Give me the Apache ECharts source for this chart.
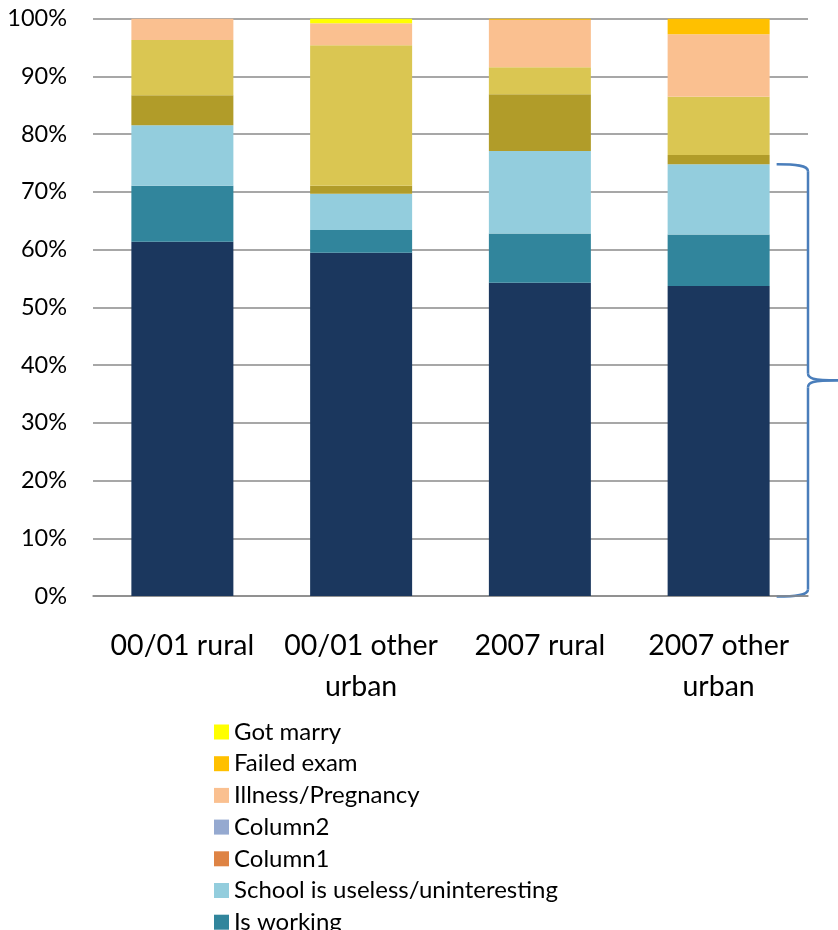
<!DOCTYPE html>
<html>
<head>
<meta charset="utf-8">
<script src="https://cdn.jsdelivr.net/npm/echarts@6/dist/echarts.min.js"></script>
<style>
html,body{margin:0;padding:0;background:#fff;}
#c{width:838px;height:930px;}
</style>
</head>
<body>
<div id="c"></div>
<script>
// ---- data (percent of reasons for dropping out) ----
var categories = ['00/01 rural', '00/01 other urban', '2007 rural', '2007 other urban'];
var yTicks = [0, 10, 20, 30, 40, 50, 60, 70, 80, 90, 100];
var baseSeries   = [61.35, 59.45, 54.25, 53.7];   // bottom (navy) series, legend entry cut off
var isWorking    = [9.7, 3.95, 8.55, 8.9];
var schoolUseless= [10.5, 6.26, 14.3, 12.2];
var column1      = [5.2, 1.4, 9.8, 1.6];
var column2      = [9.55, 24.35, 4.7, 10.1];
var illness      = [3.7, 3.8, 8.2, 10.8];
var failedExam   = [0, 0, 0.2, 2.7];
var gotMarry     = [0, 0.8, 0, 0];
var legendNames = ['Got marry', 'Failed exam', 'Illness/Pregnancy', 'Column2', 'Column1',
                   'School is useless/uninteresting', 'Is working'];

var FONT = 'Lato, "Open Sans", sans-serif';
var chart = echarts.init(document.getElementById('c'), null, {renderer: 'canvas'});

function bar(name, data, color, barColor) {
  return {
    name: name, type: 'bar', stack: 'total', barWidth: 102,
    itemStyle: {color: color},
    data: data.map(function (v) {
      return barColor ? {value: v, itemStyle: {color: barColor}} : v;
    })
  };
}

var option = {
  animation: false,
  backgroundColor: '#ffffff',
  grid: {left: 93, right: 30, top: 18.7, bottom: 334, containLabel: false},
  xAxis: {
    type: 'category', data: categories,
    axisLine: {show: true, lineStyle: {color: '#8a8a8a', width: 1.5}},
    axisTick: {show: false},
    axisLabel: {
      interval: 0, hideOverlap: false,
      color: '#000', fontFamily: FONT, fontSize: 28.5, lineHeight: 41, margin: 29,
      formatter: function (v) { return v.replace(' urban', '\nurban'); }
    }
  },
  yAxis: {
    type: 'value', min: yTicks[0], max: yTicks[yTicks.length - 1], interval: 10,
    axisLine: {show: false}, axisTick: {show: false},
    splitLine: {lineStyle: {color: '#8a8a8a', width: 1.5}},
    axisLabel: {color: '#000', fontFamily: FONT, fontSize: 23.5, margin: 26,
                formatter: '{value}%'}
  },
  legend: {
    orient: 'vertical', left: 209, top: 715, height: 400,
    data: legendNames, icon: 'rect', itemWidth: 15, itemHeight: 15, itemGap: 7.7,
    selectedMode: false,
    textStyle: {color: '#000', fontFamily: FONT, fontSize: 24, lineHeight: 24}
  },
  series: [
    bar('Other', baseSeries, '#1B375E'),
    bar('Is working', isWorking, '#31859C'),
    bar('School is useless/uninteresting', schoolUseless, '#93CDDD'),
    bar('Column1', column1, '#DE8344', '#B19C29'),
    bar('Column2', column2, '#95A9D0', '#DAC652'),
    bar('Illness/Pregnancy', illness, '#FAC090'),
    bar('Failed exam', failedExam, '#FFC000'),
    bar('Got marry', gotMarry, '#FFFF00')
  ]
};
chart.setOption(option);

// curly brace annotation spanning 0% to the top of "School is useless" on the last bar
var last = categories.length - 1;
var braceTopVal = baseSeries[last] + isWorking[last] + schoolUseless[last];
var pBot = chart.convertToPixel({gridIndex: 0}, [last, 0]);
var pTop = chart.convertToPixel({gridIndex: 0}, [last, braceTopVal]);
var gridRect = chart.getModel().getComponent('grid', 0).coordinateSystem.getRect();
var xs = pBot[0] + 51 + 7;           // start of brace hook (just right of bar)
var xv = gridRect.x + gridRect.width; // vertical line
var xt = 838;                        // tip
var yT = pTop[1], yB = pBot[1] + 0.5, yM = (yT + yB) / 2;
var st = {stroke: '#4A7EBB', lineWidth: 2.5, fill: null};
function bz(x1, y1, c1x, c1y, c2x, c2y, x2, y2) {
  return {type: 'bezierCurve', silent: true, style: st,
          shape: {x1: x1, y1: y1, cpx1: c1x, cpy1: c1y, cpx2: c2x, cpy2: c2y, x2: x2, y2: y2}};
}
function ln(x1, y1, x2, y2) {
  return {type: 'line', silent: true, style: st, shape: {x1: x1, y1: y1, x2: x2, y2: y2}};
}
chart.setOption({
  graphic: [
    bz(xs, yT, xv - 12, yT, xv, yT + 1, xv, yT + 7),
    ln(xv, yT + 7, xv, yM - 7),
    bz(xv, yM - 7, xv, yM - 2, xv + 4, yM, xt, yM),
    bz(xt, yM, xv + 4, yM, xv, yM + 2, xv, yM + 7),
    ln(xv, yM + 7, xv, yB - 7),
    bz(xv, yB - 7, xv, yB - 1, xv - 12, yB, xs, yB)
  ]
});
</script>
</body>
</html>
